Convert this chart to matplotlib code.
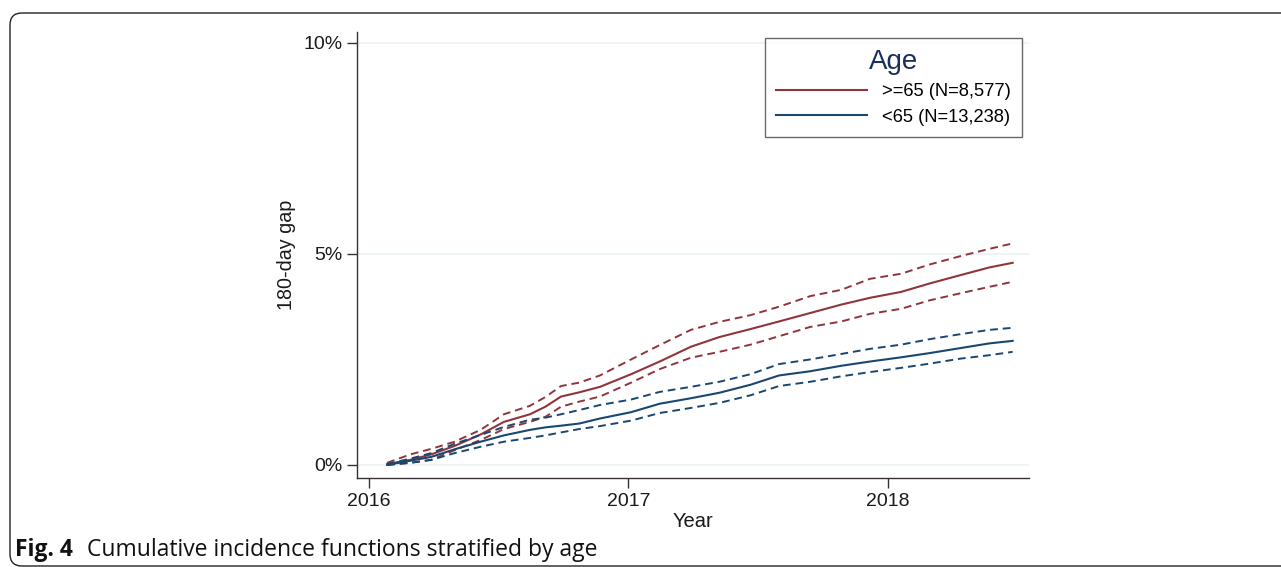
import numpy as np
import matplotlib.pyplot as plt
from matplotlib.patches import FancyBboxPatch

plt.rcParams['font.family'] = ['Liberation Sans', 'DejaVu Sans']

# time in decimal years, cumulative incidence in %
t = [2016.07, 2016.16, 2016.24, 2016.33, 2016.43, 2016.52, 2016.62, 2016.68,
     2016.74, 2016.81, 2016.89, 2017.01, 2017.12, 2017.24, 2017.35, 2017.47,
     2017.58, 2017.70, 2017.82, 2017.93, 2018.05, 2018.16, 2018.28, 2018.39,
     2018.48]

old_cif = [0.02, 0.12, 0.25, 0.45, 0.72, 1.02, 1.20, 1.38, 1.62, 1.72, 1.85, 2.15,
           2.45, 2.80, 3.03, 3.22, 3.40, 3.60, 3.80, 3.96, 4.10, 4.30, 4.50, 4.68, 4.79]
old_hi = [0.05, 0.25, 0.38, 0.55, 0.83, 1.20, 1.40, 1.61, 1.87, 1.95, 2.12, 2.50,
          2.84, 3.20, 3.39, 3.55, 3.75, 4.00, 4.15, 4.41, 4.53, 4.75, 4.95, 5.12, 5.25]
old_lo = [0.00, 0.05, 0.12, 0.35, 0.59, 0.85, 1.02, 1.14, 1.38, 1.50, 1.62, 1.95,
          2.27, 2.54, 2.68, 2.85, 3.05, 3.27, 3.40, 3.58, 3.70, 3.90, 4.07, 4.22, 4.34]

young_cif = [0.00, 0.10, 0.19, 0.37, 0.55, 0.70, 0.83, 0.89, 0.93, 0.98, 1.10, 1.25,
             1.45, 1.58, 1.71, 1.90, 2.12, 2.22, 2.35, 2.45, 2.55, 2.65, 2.77, 2.88, 2.94]
young_hi = [0.02, 0.15, 0.28, 0.50, 0.71, 0.90, 1.07, 1.12, 1.20, 1.30, 1.42, 1.55,
            1.73, 1.85, 1.97, 2.15, 2.39, 2.50, 2.63, 2.75, 2.85, 2.98, 3.10, 3.20, 3.25]
young_lo = [0.00, 0.05, 0.12, 0.28, 0.43, 0.55, 0.64, 0.70, 0.77, 0.85, 0.92, 1.05,
            1.23, 1.35, 1.47, 1.65, 1.87, 1.97, 2.10, 2.20, 2.30, 2.40, 2.52, 2.60, 2.68]

labels = ['>=65 (N=8,577)', '<65 (N=13,238)']
yticks = [0, 5, 10]
xticks = [2016, 2017, 2018]

maroon = '#90353b'
navy = '#1a476f'

fig = plt.figure(figsize=(12.81, 5.67), dpi=100)
ax = fig.add_axes([357/1281, 1-478/567, 672/1281, 446/567])

dash = (0, (4, 2.5))
ax.plot(t, old_cif, color=maroon, lw=1.5, label=labels[0])
ax.plot(t, old_hi, color=maroon, lw=1.4, ls=dash)
ax.plot(t, old_lo, color=maroon, lw=1.4, ls=dash)
ax.plot(t, young_cif, color=navy, lw=1.5, label=labels[1])
ax.plot(t, young_hi, color=navy, lw=1.4, ls=dash)
ax.plot(t, young_lo, color=navy, lw=1.4, ls=dash)

ax.set_xlim(2015.954, 2018.543)
ax.set_ylim(-0.31, 10.26)
ax.set_yticks(yticks)
ax.set_yticklabels(['%d%%' % v for v in yticks])
ax.set_xticks(xticks)
ax.set_xticklabels([str(v) for v in xticks])
for v in yticks:
    ax.axhline(v, color='#eaf2f3', lw=1.2, zorder=0)

for s in ['top', 'right']:
    ax.spines[s].set_visible(False)
for s in ['left', 'bottom']:
    ax.spines[s].set_color('#333333')
    ax.spines[s].set_linewidth(1.0)
ax.tick_params(direction='out', length=7, width=1.0, color='#333333',
               labelsize=14, labelcolor='#1a1a1a')
ax.set_xlabel('Year', fontsize=14.5, labelpad=2, color='#1a1a1a')
ax.set_ylabel('180-day gap', fontsize=14.2, labelpad=5, color='#1a1a1a')

leg = ax.legend(title='Age', loc='upper right', bbox_to_anchor=(0.9896, 0.9865),
                borderaxespad=0, fontsize=13.2, title_fontsize=20, frameon=True,
                fancybox=False, edgecolor='#444444', handlelength=5,
                handletextpad=0.8, borderpad=0.6, labelspacing=0.45)
leg.get_frame().set_linewidth(1.0)
leg.get_title().set_color('#1a2f5a')

# caption under the plot
cap_font = ['Open Sans', 'DejaVu Sans']
fig.text(15/1281, 1-556/567, 'Fig. 4', fontsize=16.5, fontweight='bold',
         family=cap_font, va='baseline', color='#111111')
fig.text(87/1281, 1-556/567, 'Cumulative incidence functions stratified by age',
         fontsize=16.5, family=cap_font, va='baseline', color='#111111')

# rounded frame round the figure panel
frame = FancyBboxPatch((0.10, 0.01), 12.9, 5.53,
                       boxstyle='round,pad=0,rounding_size=0.12',
                       transform=fig.dpi_scale_trans, fill=False,
                       edgecolor='#222222', lw=1.0)
fig.patches.append(frame)

fig.savefig('out.png', dpi=100)
